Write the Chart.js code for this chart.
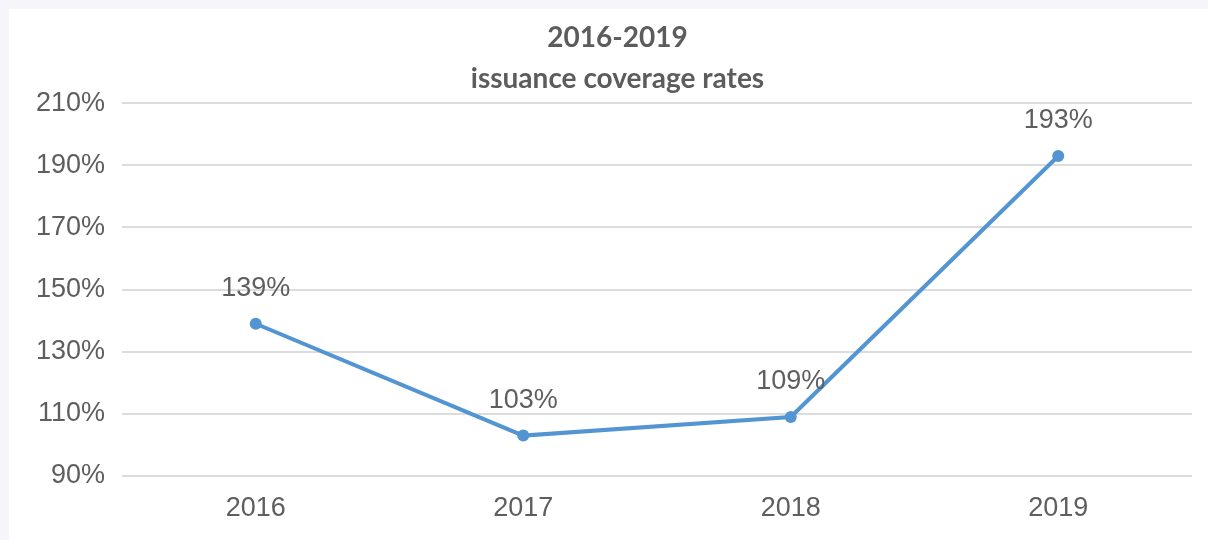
<!DOCTYPE html>
<html>
<head>
<meta charset="utf-8">
<script src="https://cdn.jsdelivr.net/npm/chart.js@4"></script>
<style>
    html, body { margin: 0; padding: 0; background: #f5f5fa; }
    .panel {
        position: absolute;
        left: 9px;
        top: 9px;
        width: 1199px;
        height: 531px;
        background: #ffffff;
    }
</style>
</head>
<body>
<div class="panel">
    <canvas id="coverage-chart" width="1199" height="531"></canvas>
</div>
<script>
const years = ['2016', '2017', '2018', '2019'];
const coverageRates = [139, 103, 109, 193];
const yTicks = [90, 110, 130, 150, 170, 190, 210];

const lineColor = '#5394d2';
const textColor = '#5e5e5e';
const labelFont = { family: '"Liberation Sans", Arial, sans-serif', size: 27 };

// draw the "139%" style labels above each point
const pointLabels = {
    id: 'pointLabels',
    afterDatasetsDraw(chart) {
        const ctx = chart.ctx;
        const meta = chart.getDatasetMeta(0);
        ctx.save();
        ctx.font = labelFont.size + 'px ' + labelFont.family;
        ctx.fillStyle = textColor;
        ctx.textAlign = 'center';
        ctx.textBaseline = 'middle';
        meta.data.forEach((pt, i) => {
            ctx.fillText(chart.data.datasets[0].data[i] + '%', pt.x, pt.y - 35);
        });
        ctx.restore();
    }
};

// title in the original sits a bit right of the canvas centre
const nudgeTitle = {
    id: 'nudgeTitle',
    afterLayout(chart) {
        if (chart.titleBlock) {
            chart.titleBlock.left += 34;
        }
    }
};

const config = {
    type: 'line',
    data: {
        labels: years,
        datasets: [{
            label: 'Coverage rate',
            data: coverageRates,
            borderColor: lineColor,
            backgroundColor: lineColor,
            borderWidth: 4,
            pointRadius: 6,
            pointBorderWidth: 0,
            tension: 0,
            fill: false,
        }]
    },
    options: {
        responsive: false,
        animation: false,
        layout: {
            padding: { top: 9, right: 16, left: 0, bottom: 0 }
        },
        plugins: {
            legend: { display: false },
            tooltip: { enabled: false },
            title: {
                display: true,
                text: ['2016-2019', 'issuance coverage rates'],
                color: '#5c5c5c',
                font: { family: 'Lato, "Open Sans", sans-serif', size: 28, weight: 'bold', lineHeight: 1.45 },
                padding: { top: 0, bottom: 4 }
            }
        },
        scales: {
            x: {
                offset: true,
                grid: { display: false, drawTicks: false },
                border: { display: false },
                ticks: {
                    color: textColor,
                    padding: 16,
                    font: labelFont
                },
                afterFit(scale) { scale.height = 64; }
            },
            y: {
                min: 90,
                max: 210,
                afterBuildTicks(scale) {
                    scale.ticks = yTicks.map(v => ({ value: v }));
                },
                grid: { color: '#dcdcdc', lineWidth: 2, drawTicks: false },
                border: { display: false },
                ticks: {
                    color: textColor,
                    padding: 17,
                    font: labelFont,
                    callback: (v) => v + '%'
                },
                afterFit(scale) { scale.width = 113; }
            }
        }
    },
    plugins: [pointLabels, nudgeTitle]
};

new Chart(document.getElementById('coverage-chart'), config);
</script>
</body>
</html>
